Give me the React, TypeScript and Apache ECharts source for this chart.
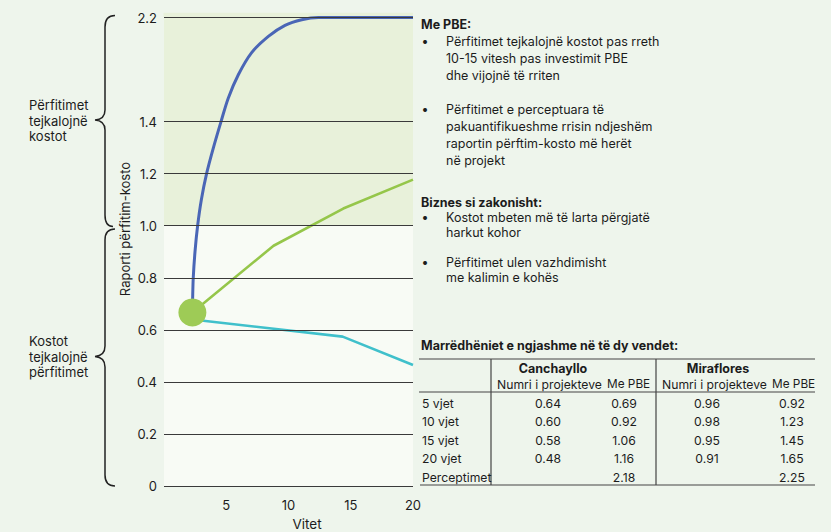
import React, { useEffect, useRef } from "react";
import * as echarts from "echarts";

// ---- data ----
const xTicks = [5, 10, 15, 20];
const yTickLabels = [0, 0.2, 0.4, 0.6, 0.8, 1.0, 1.2, 1.4, 2.2];
const startPoint: [number, number] = [2.28, 0.667];
const pbePerceived: [number, number][] = [
  [2.28, 0.667], [2.3, 0.72], [2.35, 0.8], [2.49, 0.9], [2.7, 1.0], [3.0, 1.1],
  [3.42, 1.2], [3.97, 1.3], [4.58, 1.4], [5.16, 1.58], [5.97, 1.76], [7.04, 1.93],
  [8.38, 2.055], [9.72, 2.14], [11.06, 2.183], [12.4, 2.2], [20, 2.2],
];
const pbeMeasured: [number, number][] = [
  [2.28, 0.667], [8.8, 0.923], [14.4, 1.066], [20, 1.177],
];
const businessAsUsual: [number, number][] = [
  [2.28, 0.64], [14.35, 0.574], [20, 0.465],
];
const tableRows = ["5 vjet", "10 vjet", "15 vjet", "20 vjet", "Perceptimet"];
const canchaylloProjects = ["0.64", "0.60", "0.58", "0.48", ""];
const canchaylloPBE = ["0.69", "0.92", "1.06", "1.16", "2.18"];
const mirafloresProjects = ["0.96", "0.98", "0.95", "0.91", ""];
const mirafloresPBE = ["0.92", "1.23", "1.45", "1.65", "2.25"];

// axis compression above 1.4 (the reference axis jumps from 1.4 to 2.2)
const tf = (v: number) => (v <= 1.4 ? v : 1.4 + (v - 1.4) / 2);
const inv = (t: number) => (t <= 1.4 ? t : 1.4 + (t - 1.4) * 2);

const FONT = "Inter, 'Noto Sans', sans-serif";
const INK = "#1c1c1c";
const SHADE = "#e8f1da";

const upperBrace =
  "M115,15.5 C108,15.5 105,19 105,27 L105,110 C105,116 101.5,119.5 95,120 C101.5,120.5 105,124 105,130 L105,215 C105,223 108,226.5 113,226.5";
const lowerBrace =
  "M115,229 C108,229 105,232.5 105,240 L105,346 C105,352 101.5,356 95,356.5 C101.5,357 105,361 105,367 L105,475 C105,482 108,486 115,486";

let registered = false;
function registerShapes() {
  if (registered) return;
  registered = true;
  echarts.graphic.registerShape("braceUpper", echarts.graphic.extendPath(upperBrace, {}) as any);
  echarts.graphic.registerShape("braceLower", echarts.graphic.extendPath(lowerBrace, {}) as any);
}

function txt(x: number, y: number, text: string, opts: any = {}) {
  return {
    type: "text",
    x,
    y,
    silent: true,
    style: {
      text,
      fill: opts.fill || INK,
      fontSize: opts.fontSize || 12.5,
      fontFamily: FONT,
      fontWeight: opts.fontWeight || "normal",
      fontStyle: opts.fontStyle || "normal",
      align: opts.align || "left",
      verticalAlign: "middle",
    },
  };
}
function hline(x1: number, x2: number, y: number, stroke = "#444", w = 1.2) {
  return { type: "line", silent: true, shape: { x1, y1: y, x2, y2: y }, style: { stroke, lineWidth: w } };
}
function vline(x: number, y1: number, y2: number, stroke = "#444", w = 1.2) {
  return { type: "line", silent: true, shape: { x1: x, y1, x2: x, y2 }, style: { stroke, lineWidth: w } };
}

export default function App() {
  const ref = useRef<HTMLDivElement>(null);
  useEffect(() => {
    if (!ref.current) return;
    registerShapes();
    const chart = echarts.init(ref.current, undefined, { renderer: "svg" });

    const graphics: any[] = [];
    // small strip of shading above the top grid line
    graphics.push({ type: "rect", silent: true, z: -1, shape: { x: 163.5, y: 12.7, width: 249.5, height: 4.6 }, style: { fill: SHADE } });
    // braces and side labels
    graphics.push({ type: "braceUpper", x: 0, y: 0, silent: true, style: { fill: "none", stroke: "#222", lineWidth: 1.5 } });
    graphics.push({ type: "braceLower", x: 0, y: 0, silent: true, style: { fill: "none", stroke: "#222", lineWidth: 1.5 } });
    ["Përfitimet", "tejkalojnë", "kostot"].forEach((s, i) => graphics.push(txt(29, 105 + i * 15.7, s, { fontSize: 13 })));
    ["Kostot", "tejkalojnë", "përfitimet"].forEach((s, i) => graphics.push(txt(29, 341 + i * 15.7, s, { fontSize: 13 })));
    // axis names
    graphics.push({
      type: "text", x: 125, y: 229, rotation: Math.PI / 2, silent: true,
      style: { text: "Raporti përfitim-kosto", fill: INK, fontSize: 13, fontFamily: FONT, align: "center", verticalAlign: "middle" },
    });
    graphics.push(txt(307, 524, "Vitet", { fontSize: 13.5, align: "center" }));
    // in-plot annotations
    graphics.push(txt(308, 35, "Me PBE", { fontSize: 13, fontStyle: "italic" }));
    ["(perceptimet", "e përfitimeve", "më të gjera)"].forEach((s, i) => graphics.push(txt(308, 51 + i * 13.5, s, { fontSize: 11.5 })));
    graphics.push(txt(308, 246, "Me PBE", { fontSize: 13, fontStyle: "italic" }));
    graphics.push(txt(308, 260, "(të matura)", { fontSize: 11.5 }));
    graphics.push(txt(219, 349, "Biznes si zakonisht", { fontSize: 13, fontStyle: "italic" }));
    graphics.push(txt(219, 364, "(i matur)", { fontSize: 11.5 }));

    // right notes
    graphics.push(txt(421, 24, "Me PBE:", { fontWeight: "bold" }));
    const b1 = ["Përfitimet tejkalojnë kostot pas rreth", "10-15 vitesh pas investimit PBE", "dhe vijojnë të rriten"];
    const b2 = ["Përfitimet e perceptuara të", "pakuantifikueshme rrisin ndjeshëm", "raportin përftim-kosto më herët", "në projekt"];
    const b3 = ["Kostot mbeten më të larta përgjatë", "harkut kohor"];
    const b4 = ["Përfitimet ulen vazhdimisht", "me kalimin e kohës"];
    const bullet = (lines: string[], y0: number, step: number) => {
      graphics.push(txt(425, y0, "•", { align: "center" }));
      lines.forEach((s, i) => graphics.push(txt(446, y0 + i * step, s)));
    };
    bullet(b1, 41, 17);
    bullet(b2, 109, 17);
    graphics.push(txt(421, 202, "Biznes si zakonisht:", { fontWeight: "bold" }));
    bullet(b3, 217, 15.3);
    bullet(b4, 262, 15.5);

    // table
    graphics.push(txt(421, 345, "Marrëdhëniet e ngjashme në të dy vendet:", { fontWeight: "bold" }));
    graphics.push(hline(419, 815, 359));
    graphics.push(hline(419, 815, 392));
    graphics.push(hline(420, 815, 485));
    graphics.push(vline(491, 359, 485));
    graphics.push(vline(656, 359, 485));
    graphics.push(txt(553, 368, "Canchayllo", { fontWeight: "bold", align: "center" }));
    graphics.push(txt(718, 368, "Miraflores", { fontWeight: "bold", align: "center" }));
    graphics.push(txt(497, 384, "Numri i projekteve", { fontSize: 12.2 }));
    graphics.push(txt(607, 384, "Me PBE", { fontSize: 11.8 }));
    graphics.push(txt(662, 384, "Numri i projekteve", { fontSize: 12.2 }));
    graphics.push(txt(772, 384, "Me PBE", { fontSize: 11.8 }));
    const rowY = [403, 421.5, 440, 458.5, 477.5];
    tableRows.forEach((r, i) => {
      graphics.push(txt(422, rowY[i], r, { fontSize: 12.2 }));
      graphics.push(txt(548, rowY[i], canchaylloProjects[i], { fontSize: 12.2, align: "center" }));
      graphics.push(txt(624, rowY[i], canchaylloPBE[i], { fontSize: 12.2, align: "center" }));
      graphics.push(txt(707, rowY[i], mirafloresProjects[i], { fontSize: 12.2, align: "center" }));
      graphics.push(txt(792, rowY[i], mirafloresPBE[i], { fontSize: 12.2, align: "center" }));
    });

    const mapPts = (pts: [number, number][]) => pts.map(([x, y]) => [x, tf(y)]);

    chart.setOption({
      animation: false,
      backgroundColor: "#eef5ec",
      textStyle: { fontFamily: FONT },
      grid: { left: 164, right: 418, top: 17.5, bottom: 46 },
      xAxis: {
        type: "value",
        min: 0,
        max: 20,
        interval: 5,
        axisLine: { show: false },
        axisTick: { show: false },
        splitLine: { show: false },
        axisLabel: {
          margin: 12,
          fontSize: 13,
          color: INK,
          fontFamily: FONT,
          formatter: (v: number) => (xTicks.includes(v) ? String(v) : ""),
        },
      },
      yAxis: {
        type: "value",
        min: 0,
        max: tf(2.2),
        interval: 0.2,
        axisLine: { show: false },
        axisTick: { show: false },
        splitLine: { show: false },
        axisLabel: {
          margin: 7,
          fontSize: 13,
          color: INK,
          fontFamily: FONT,
          formatter: (t: number) => {
            const r = inv(t);
            const m = yTickLabels.find((v) => Math.abs(v - r) < 1e-6);
            return m === undefined ? "" : m === 0 ? "0" : m.toFixed(1);
          },
        },
      },
      graphic: graphics,
      series: [
        {
          type: "line",
          name: "helper",
          data: [[0, 0], [20, 0]],
          showSymbol: false,
          silent: true,
          lineStyle: { opacity: 0 },
          z: 1,
          markArea: {
            silent: true,
            data: [
              [{ yAxis: 0, itemStyle: { color: "#f8fbf5" } }, { yAxis: tf(1.0) }],
              [{ yAxis: tf(1.0), itemStyle: { color: SHADE } }, { yAxis: tf(2.2) }],
            ],
          },
          markLine: {
            silent: true,
            symbol: ["none", "none"],
            label: { show: false },
            lineStyle: { color: "#3a3a3a", width: 1.2, type: "solid" },
            data: yTickLabels.map((v) => ({ yAxis: tf(v) })),
          },
        },
        {
          type: "line",
          name: "Biznes si zakonisht",
          data: mapPts(businessAsUsual),
          showSymbol: false,
          lineStyle: { color: "#40c0cb", width: 2.6 },
          z: 3,
        },
        {
          type: "line",
          name: "Me PBE (të matura)",
          data: mapPts(pbeMeasured),
          showSymbol: false,
          lineStyle: { color: "#95c64a", width: 2.6 },
          z: 3,
        },
        {
          type: "line",
          name: "Me PBE (perceptimet)",
          data: mapPts(pbePerceived),
          showSymbol: false,
          smooth: 0.3,
          lineStyle: { color: "#4a66b6", width: 3 },
          z: 4,
        },
        {
          type: "scatter",
          name: "start",
          data: [[startPoint[0], tf(startPoint[1])]],
          symbolSize: 28,
          itemStyle: { color: "#9ecb56", opacity: 1 },
          z: 5,
        },
      ],
    });
    return () => chart.dispose();
  }, []);
  return <div ref={ref} style={{ position: "fixed", left: 0, top: 0, width: 831, height: 532 }} />;
}
